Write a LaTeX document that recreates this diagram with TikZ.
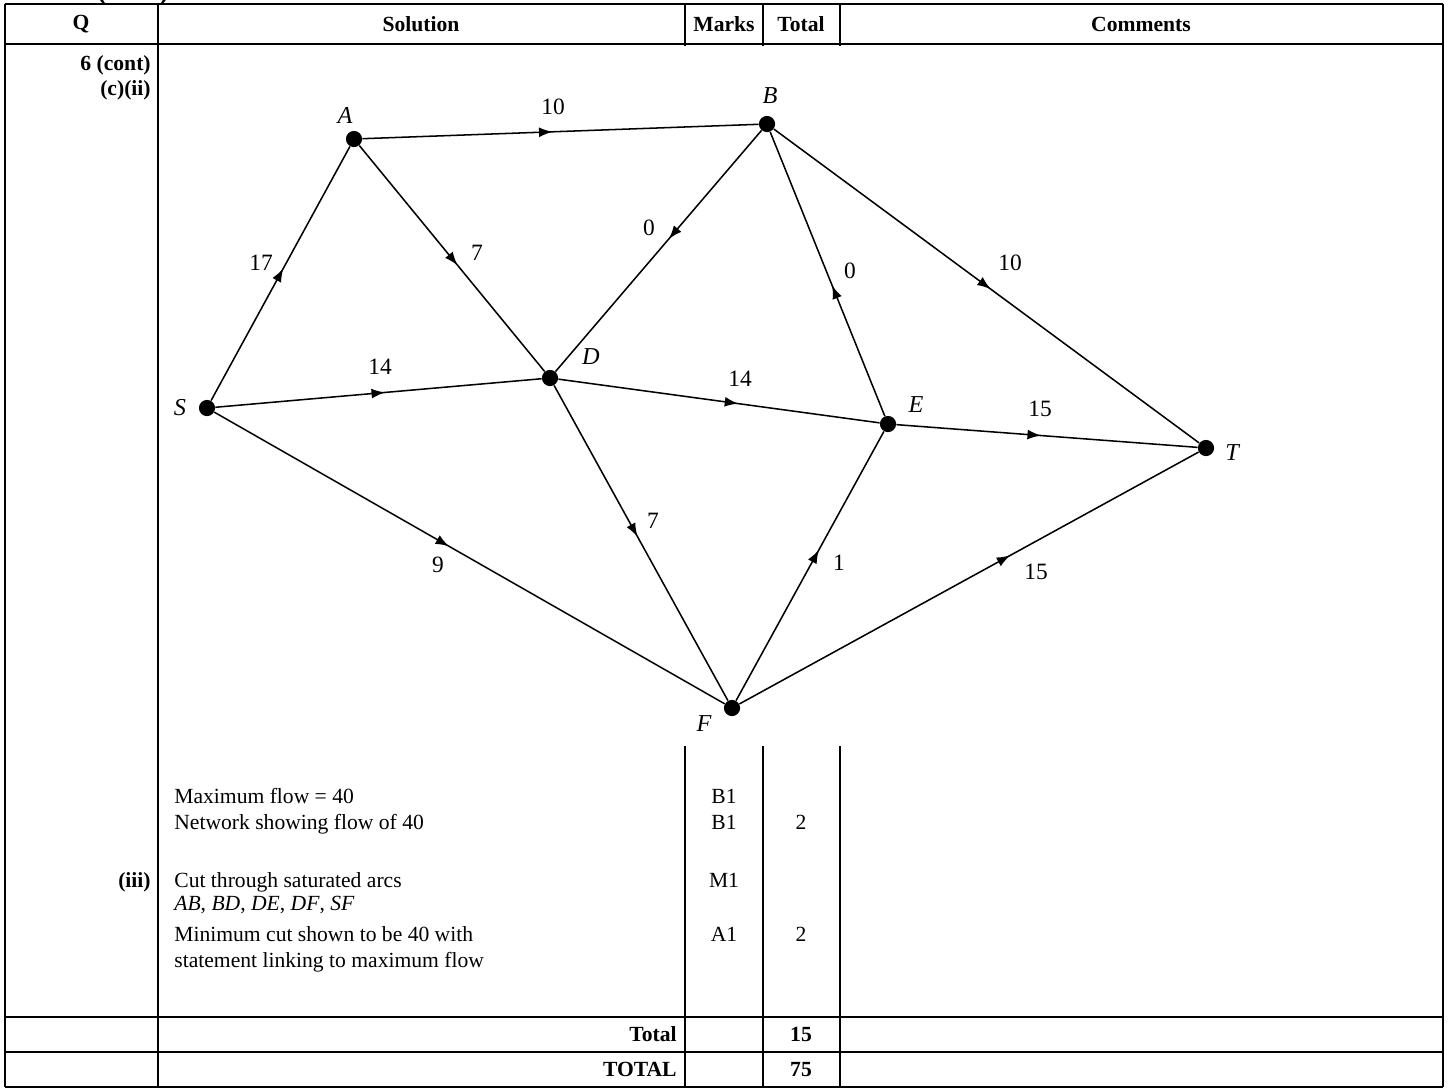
\documentclass[tikz,border=0pt]{standalone}
\usepackage{fontspec}
\setmainfont{Liberation Serif}
\usetikzlibrary{arrows.meta,decorations.markings}
\begin{document}
\begin{tikzpicture}[x=0.5556pt,y=-0.5556pt,
  tline/.style={line width=1.1pt},
  txt/.style={font=\fontsize{12}{14}\selectfont, inner sep=0pt},
  btxt/.style={font=\fontsize{12}{14}\selectfont\bfseries, inner sep=0pt},
  vtx/.style={circle,fill=black,inner sep=0pt,minimum size=9pt},
  vlab/.style={font=\fontsize{13.5}{15}\selectfont\itshape, inner sep=0pt},
  flab/.style={font=\fontsize{13}{15}\selectfont, inner sep=0pt},
  arc/.style={line width=0.85pt, postaction={decorate},
    decoration={markings, mark=at position #1 with {\arrow{Latex[length=7.5pt,width=5.5pt]}}}}
]
\useasboundingbox (0,0) rectangle (1448,1088);
\clip (0,0) rectangle (1448,1088);
\fill[white] (0,0) rectangle (1448,1088);

% cut-off heading at the very top
\node[font=\fontsize{16}{18}\selectfont\bfseries, inner sep=0pt, anchor=base] (head) at (133,-1) {(cont)};

% table rules
\draw[tline] (5,4) -- (1443,4);
\draw[tline] (5,44) -- (1443,44);
\draw[tline] (5,1017) -- (1443,1017);
\draw[tline] (5,1052) -- (1443,1052);
\draw[tline] (5,1087) -- (1443,1087);
\draw[tline] (5,4) -- (5,1087);
\draw[tline] (1443,4) -- (1443,1087);
\draw[tline] (158,4) -- (158,1087);
\draw[tline] (685,4) -- (685,1087);
\draw[tline] (763,4) -- (763,1087);
\draw[tline] (840,4) -- (840,1087);

% pasted network picture area
\fill[white] (160,46) rectangle (1262,746);

% header
\node[btxt] (hQ) at (81,24) {Q};
\node[btxt] (hSol) at (421,24) {Solution};
\node[btxt] (hMarks) at (724,24) {Marks};
\node[btxt] (hTotal) at (801,24) {Total};
\node[btxt] (hCom) at (1141,24) {Comments};

% question labels
\node[btxt, anchor=base east] (q6) at (151,70) {6 (cont)};
\node[btxt, anchor=base east] (qcii) at (151,95) {(c)(ii)};
\node[btxt, anchor=base east] (qiii) at (151,887) {(iii)};

% solution text
\node[txt, anchor=base west] (s1) at (174,803) {Maximum flow = 40};
\node[txt, anchor=base west] (s2) at (174,829) {Network showing flow of 40};
\node[txt, anchor=base west] (s3) at (174,887) {Cut through saturated arcs};
\node[txt, anchor=base west] (s4) at (174,910) {\textit{AB}, \textit{BD}, \textit{DE}, \textit{DF}, \textit{SF}};
\node[txt, anchor=base west] (s5) at (174,941) {Minimum cut shown to be 40 with};
\node[txt, anchor=base west] (s6) at (174,967) {statement linking to maximum flow};

% marks
\node[txt, anchor=base] (m1) at (724,803) {B1};
\node[txt, anchor=base] (m2) at (724,829) {B1};
\node[txt, anchor=base] (m3) at (724,887) {M1};
\node[txt, anchor=base] (m4) at (724,941) {A1};
\node[txt, anchor=base] (t1) at (801,829) {2};
\node[txt, anchor=base] (t2) at (801,941) {2};

% totals
\node[btxt, anchor=base east] (tot1) at (677,1041) {Total};
\node[btxt, anchor=base] (tot1v) at (801,1041) {15};
\node[btxt, anchor=base east] (tot2) at (677,1076) {TOTAL};
\node[btxt, anchor=base] (tot2v) at (801,1076) {75};

% network vertices
\node[vtx] (A) at (354,139) {};
\node[vtx] (B) at (767,124) {};
\node[vtx] (D) at (550,378) {};
\node[vtx] (S) at (207,408) {};
\node[vtx] (E) at (888,424) {};
\node[vtx] (T) at (1206,448) {};
\node[vtx] (F) at (732,708) {};

\node[vlab] (lA) at (345,115) {A};
\node[vlab] (lB) at (770,96) {B};
\node[vlab] (lD) at (591,357) {D};
\node[vlab] (lS) at (180,408) {S};
\node[vlab] (lE) at (916,405) {E};
\node[vlab] (lT) at (1232,453) {T};
\node[vlab] (lF) at (704,724) {F};

% arcs
\draw[arc=0.52] (S) -- (A);
\draw[arc=0.48] (A) -- (B);
\draw[arc=0.53] (A) -- (D);
\draw[arc=0.45] (B) -- (D);
\draw[arc=0.46] (E) -- (B);
\draw[arc=0.51] (B) -- (T);
\draw[arc=0.52] (S) -- (D);
\draw[arc=0.56] (D) -- (E);
\draw[arc=0.48] (E) -- (T);
\draw[arc=0.46] (S) -- (F);
\draw[arc=0.48] (D) -- (F);
\draw[arc=0.56] (F) -- (E);
\draw[arc=0.59] (F) -- (T);

% flow values
\node[flab] (fAB) at (553,107) {10};
\node[flab] (fSA) at (261,263) {17};
\node[flab] (fAD) at (477,253) {7};
\node[flab] (fBD) at (649,228) {0};
\node[flab] (fEB) at (850,271) {0};
\node[flab] (fBT) at (1010,263) {10};
\node[flab] (fSD) at (380,367) {14};
\node[flab] (fDE) at (740,379) {14};
\node[flab] (fET) at (1040,409) {15};
\node[flab] (fSF) at (438,565) {9};
\node[flab] (fDF) at (653,521) {7};
\node[flab] (fFE) at (839,563) {1};
\node[flab] (fFT) at (1036,572) {15};
\end{tikzpicture}
\end{document}
